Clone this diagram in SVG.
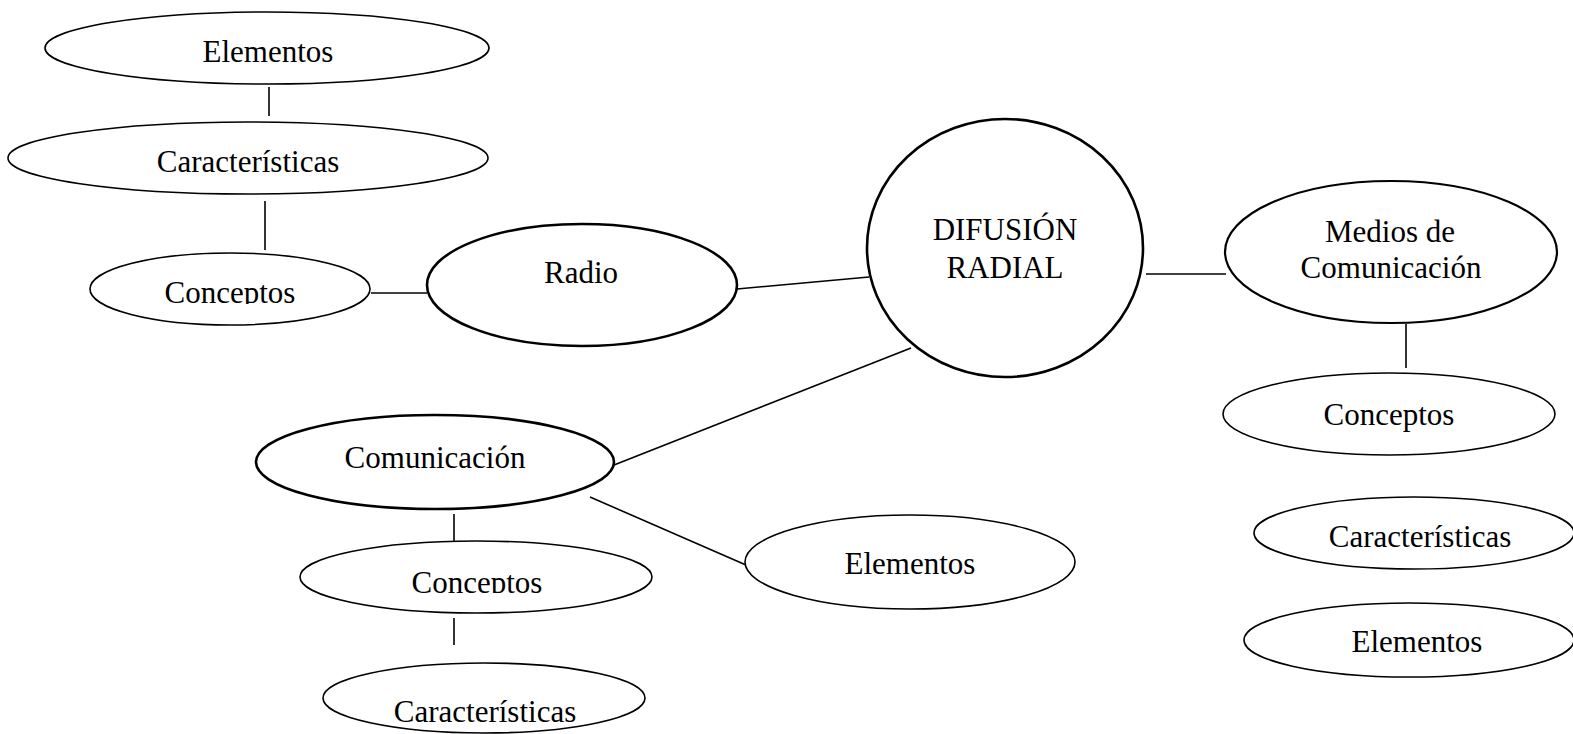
<svg xmlns="http://www.w3.org/2000/svg" width="1573" height="734" viewBox="0 0 1573 734">
<style>
  .n { fill: #ffffff; stroke: #000000; stroke-width: 1.6; }
  .b { stroke-width: 2.6; }
  .m { stroke-width: 2.2; }
  .t { font-family: "Liberation Serif", "Times New Roman", serif; font-size: 31px; fill: #000000; text-anchor: middle; }
  .c line { stroke: #000000; stroke-width: 1.6; }
</style>
<defs>
  <clipPath id="clipA"><rect x="0" y="0" width="1573" height="304"/></clipPath>
  <clipPath id="clipB"><rect x="0" y="0" width="1573" height="593"/></clipPath>
</defs>
<rect width="1573" height="734" fill="#ffffff"/>
<g id="connectors" class="c">
  <line x1="269" y1="87" x2="269" y2="116"/>
  <line x1="265" y1="201" x2="265" y2="250"/>
  <line x1="371" y1="293" x2="427" y2="293"/>
  <line x1="737" y1="289" x2="869" y2="277"/>
  <line x1="1146" y1="274" x2="1226" y2="274"/>
  <line x1="911" y1="348" x2="614" y2="465"/>
  <line x1="590" y1="497" x2="746" y2="565"/>
  <line x1="454" y1="514" x2="454" y2="541"/>
  <line x1="454" y1="618" x2="454" y2="645"/>
  <line x1="1406" y1="324" x2="1406" y2="368"/>
</g>
<g id="n-elementos-tl">
  <ellipse class="n" cx="267" cy="48" rx="222" ry="36"/>
  <text class="t" x="268" y="62">Elementos</text>
</g>
<g id="n-caracteristicas-tl">
  <ellipse class="n" cx="248" cy="158" rx="240" ry="36"/>
  <text class="t" x="248" y="172">Características</text>
</g>
<g id="n-conceptos-tl">
  <ellipse class="n" cx="230" cy="289" rx="140" ry="36"/>
  <text class="t" x="230" y="303" clip-path="url(#clipA)">Conceptos</text>
</g>
<g id="n-radio">
  <ellipse class="n b" cx="582" cy="285" rx="155" ry="61"/>
  <text class="t" x="581" y="283">Radio</text>
</g>
<g id="n-difusion">
  <ellipse class="n b" cx="1005" cy="248" rx="138" ry="129"/>
  <text class="t" x="1005" y="240">DIFUSIÓN</text>
  <text class="t" x="1005" y="278">RADIAL</text>
</g>
<g id="n-medios">
  <ellipse class="n m" cx="1391" cy="252" rx="166" ry="71"/>
  <text class="t" x="1390" y="242">Medios de</text>
  <text class="t" x="1391" y="278">Comunicación</text>
</g>
<g id="n-conceptos-r">
  <ellipse class="n" cx="1389" cy="414" rx="166" ry="41"/>
  <text class="t" x="1389" y="425">Conceptos</text>
</g>
<g id="n-caracteristicas-r">
  <ellipse class="n" cx="1414" cy="533" rx="160" ry="36"/>
  <text class="t" x="1420" y="547">Características</text>
</g>
<g id="n-elementos-r">
  <ellipse class="n" cx="1409" cy="640" rx="165" ry="37"/>
  <text class="t" x="1417" y="652">Elementos</text>
</g>
<g id="n-comunicacion">
  <ellipse class="n b" cx="435" cy="462" rx="179" ry="47"/>
  <text class="t" x="435" y="468">Comunicación</text>
</g>
<g id="n-elementos-m">
  <ellipse class="n" cx="910" cy="562" rx="165" ry="47"/>
  <text class="t" x="910" y="574">Elementos</text>
</g>
<g id="n-conceptos-b">
  <ellipse class="n" cx="476" cy="577" rx="176" ry="36"/>
  <text class="t" x="477" y="593" clip-path="url(#clipB)">Conceptos</text>
</g>
<g id="n-caracteristicas-b">
  <ellipse class="n" cx="484" cy="698" rx="161" ry="35"/>
  <text class="t" x="485" y="722">Características</text>
</g>
</svg>
